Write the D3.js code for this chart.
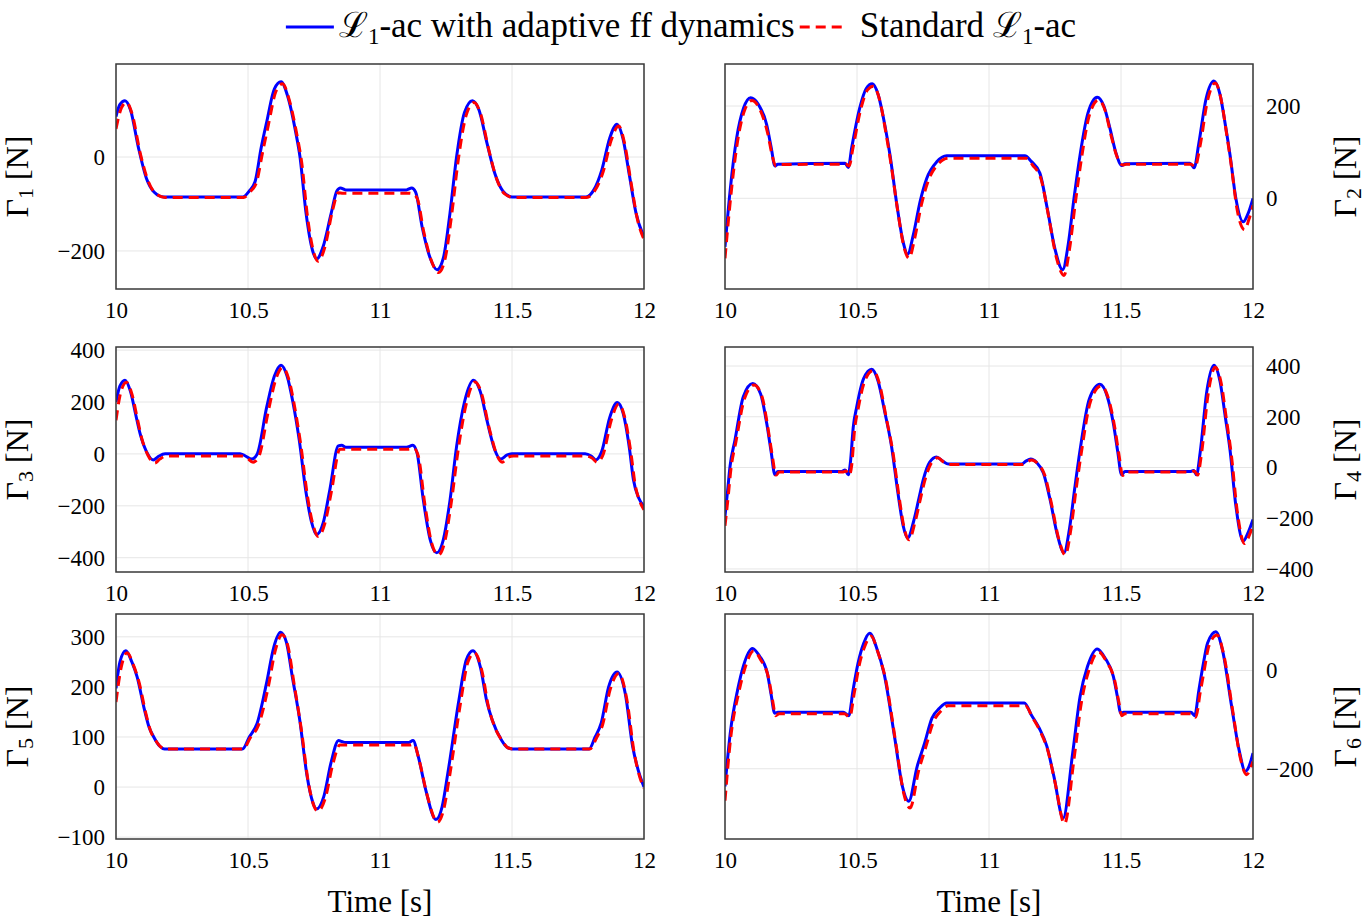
<!DOCTYPE html>
<html>
<head>
<meta charset="utf-8">
<script src="https://cdn.jsdelivr.net/npm/d3@7"></script>
<style>
body { margin: 0; background: #fff; }
</style>
</head>
<body>
<svg id="chart" width="1369" height="919"></svg>
<script>
// time axis and tick labels
var xTicks = [10, 10.5, 11, 11.5, 12];
var yTicks1 = [-200, 0];
var yTicks2 = [0, 200];
var yTicks3 = [-400, -200, 0, 200, 400];
var yTicks4 = [-400, -200, 0, 200, 400];
var yTicks5 = [-100, 0, 100, 200, 300];
var yTicks6 = [-200, 0];
var yLimits = [[-281, 198], [-196.5, 291], [-455, 412], [-412, 475], [-103.7, 345.6], [-343, 115]];

// Gamma 1
var adaptiveT1 = [10.000,10.015,10.034,10.055,10.085,10.115,10.145,10.180,10.480,10.505,10.527,10.550,10.571,10.600,10.625,10.650,10.680,10.697,10.720,10.745,10.760,10.785,10.815,10.837,10.850,10.870,11.100,11.120,11.135,11.160,11.190,11.216,11.240,11.265,11.290,11.320,11.350,11.375,11.405,11.435,11.465,11.500,11.780,11.810,11.840,11.870,11.898,11.920,11.945,11.970,12.000];
var adaptiveF1 = [86,112,120,100,20,-45,-75,-85,-85,-72,-52,20,75,145,160,130,55,0,-120,-200,-217,-190,-120,-72,-66,-70,-70,-66,-75,-150,-215,-240,-215,-120,0,95,120,100,30,-35,-72,-85,-85,-70,-28,40,70,40,-40,-120,-170];
var standardT1 = [10.000,10.021,10.040,10.061,10.091,10.121,10.151,10.186,10.483,10.508,10.531,10.556,10.577,10.606,10.631,10.656,10.686,10.703,10.726,10.751,10.766,10.791,10.821,10.842,10.860,11.105,11.122,11.141,11.166,11.196,11.222,11.246,11.271,11.296,11.326,11.356,11.381,11.411,11.441,11.471,11.506,11.783,11.813,11.845,11.876,11.904,11.926,11.951,11.976,12.000];
var standardF1 = [60,105,116,92,10,-50,-78,-86,-86,-74,-56,12,68,140,156,122,45,-10,-130,-207,-222,-192,-112,-76,-77,-77,-78,-88,-160,-223,-246,-218,-125,-8,88,116,92,18,-45,-78,-86,-86,-72,-32,36,66,30,-55,-135,-175];

// Gamma 2
var adaptiveT2 = [10.000,10.020,10.044,10.070,10.097,10.125,10.158,10.175,10.189,10.200,10.455,10.467,10.480,10.510,10.535,10.558,10.580,10.605,10.625,10.650,10.675,10.692,10.713,10.739,10.764,10.802,10.840,11.136,11.160,11.193,11.220,11.250,11.279,11.300,11.322,11.345,11.375,11.410,11.435,11.458,11.480,11.503,11.515,11.761,11.777,11.795,11.822,11.852,11.875,11.895,11.913,11.935,11.963,11.980,12.000];
var adaptiveF2 = [-105,20,130,195,218,205,159,110,70,74,76,67,110,195,238,248,225,160,94,-10,-95,-121,-80,-7,43,79,92,92,80,54,-20,-110,-155,-100,0,94,185,219,200,152,100,71,75,76,66,120,215,254,225,160,94,0,-51,-35,0];
var standardT2 = [10.000,10.022,10.048,10.075,10.102,10.130,10.162,10.178,10.192,10.205,10.458,10.470,10.485,10.515,10.540,10.562,10.585,10.610,10.630,10.655,10.680,10.697,10.718,10.744,10.770,10.807,10.845,11.140,11.165,11.198,11.226,11.256,11.284,11.305,11.327,11.350,11.380,11.415,11.440,11.463,11.485,11.507,11.520,11.765,11.780,11.800,11.827,11.857,11.880,11.900,11.918,11.940,11.968,11.985,12.000];
var standardF2 = [-130,5,125,192,212,195,140,95,70,73,74,70,110,195,235,243,215,140,70,-30,-110,-130,-88,-14,38,74,87,87,72,40,-40,-130,-167,-110,-10,85,180,213,190,135,90,72,74,74,68,115,210,250,212,140,70,-25,-68,-45,-15];

// Gamma 3
var adaptiveT3 = [10.000,10.015,10.034,10.055,10.075,10.091,10.115,10.141,10.160,10.186,10.470,10.490,10.514,10.535,10.571,10.600,10.625,10.648,10.670,10.694,10.720,10.740,10.760,10.785,10.810,10.842,10.855,10.870,11.100,11.124,11.140,11.164,11.190,11.215,11.240,11.265,11.290,11.320,11.354,11.380,11.405,11.417,11.435,11.457,11.480,11.500,11.777,11.800,11.818,11.840,11.870,11.899,11.920,11.945,11.960,11.980,12.000];
var adaptiveF3 = [200,262,284,240,150,79,10,-23,-10,1,1,-8,-20,0,181,300,342,300,200,54,-150,-260,-311,-265,-138,31,33,26,26,33,5,-177,-330,-381,-330,-180,28,200,284,240,130,79,15,-20,-5,1,1,-8,-23,10,140,198,160,20,-100,-170,-202];
var standardT3 = [10.000,10.020,10.040,10.061,10.081,10.097,10.121,10.147,10.166,10.192,10.475,10.495,10.519,10.541,10.577,10.606,10.631,10.654,10.676,10.700,10.726,10.746,10.766,10.791,10.816,10.848,10.870,11.105,11.128,11.145,11.170,11.196,11.221,11.246,11.271,11.296,11.326,11.360,11.386,11.411,11.423,11.441,11.463,11.486,11.506,11.780,11.803,11.823,11.846,11.876,11.904,11.926,11.951,11.966,11.985,12.000];
var standardF3 = [130,245,276,228,135,62,-5,-35,-20,-8,-8,-15,-32,-10,165,290,333,290,185,35,-168,-272,-318,-268,-145,18,18,18,22,-8,-195,-345,-390,-335,-180,15,190,277,228,110,62,0,-32,-12,-8,-8,-16,-32,0,130,192,145,0,-115,-185,-215];

// Gamma 4
var adaptiveT4 = [10.000,10.010,10.019,10.038,10.069,10.105,10.135,10.158,10.175,10.189,10.200,10.440,10.455,10.467,10.475,10.486,10.499,10.525,10.556,10.580,10.605,10.631,10.655,10.675,10.692,10.715,10.735,10.751,10.775,10.801,10.825,10.846,11.124,11.140,11.158,11.180,11.206,11.230,11.260,11.284,11.305,11.325,11.345,11.380,11.420,11.448,11.471,11.488,11.502,11.515,11.761,11.775,11.786,11.800,11.825,11.852,11.875,11.895,11.913,11.935,11.963,11.980,12.000];
var adaptiveF4 = [-192,-90,4,109,278,331,290,174,60,-29,-16,-16,-10,-29,20,161,239,350,387,340,220,82,-100,-230,-278,-210,-120,-48,20,41,25,14,14,25,33,20,-22,-120,-270,-336,-240,-80,69,270,328,280,174,60,-29,-16,-16,-12,-29,60,300,403,340,200,69,-150,-290,-260,-205];
var standardT4 = [10.000,10.012,10.022,10.042,10.074,10.110,10.140,10.162,10.180,10.193,10.205,10.445,10.458,10.471,10.480,10.491,10.504,10.530,10.561,10.585,10.610,10.636,10.660,10.680,10.697,10.720,10.740,10.756,10.780,10.806,10.830,10.850,11.128,11.144,11.162,11.185,11.211,11.235,11.265,11.289,11.310,11.330,11.350,11.385,11.425,11.453,11.476,11.493,11.506,11.520,11.765,11.778,11.790,11.805,11.830,11.857,11.880,11.900,11.918,11.940,11.968,11.985,12.000];
var standardF4 = [-230,-115,-10,105,272,325,280,160,40,-30,-18,-18,-14,-30,10,150,230,343,382,330,200,60,-120,-245,-285,-215,-125,-55,15,38,20,12,12,22,30,15,-30,-135,-285,-345,-245,-85,60,262,322,270,160,45,-32,-18,-18,-14,-30,55,290,395,330,185,50,-170,-300,-270,-225];

// Gamma 5
var adaptiveT5 = [10.000,10.015,10.037,10.060,10.080,10.108,10.125,10.142,10.165,10.184,10.479,10.505,10.535,10.570,10.598,10.623,10.645,10.668,10.696,10.724,10.745,10.759,10.787,10.815,10.843,10.855,10.870,11.109,11.125,11.145,11.173,11.212,11.235,11.257,11.299,11.327,11.352,11.380,11.405,11.425,11.460,11.480,11.502,11.792,11.815,11.838,11.866,11.898,11.929,11.957,11.978,12.000];
var adaptiveF5 = [197,250,272,250,220,154,120,101,82,76,76,100,128,207,280,309,290,220,134,21,-30,-44,-19,50,93,91,89,89,93,61,-5,-65,-40,28,174,254,272,240,170,134,94,80,76,76,100,128,200,230,187,81,34,0];
var standardT5 = [10.000,10.020,10.042,10.065,10.086,10.114,10.131,10.148,10.170,10.190,10.482,10.508,10.540,10.576,10.604,10.629,10.651,10.674,10.702,10.730,10.750,10.765,10.793,10.821,10.848,10.870,11.112,11.128,11.150,11.178,11.218,11.241,11.263,11.305,11.333,11.358,11.386,11.411,11.431,11.466,11.486,11.508,11.795,11.820,11.843,11.872,11.904,11.935,11.963,11.984,12.000];
var standardF5 = [170,240,268,245,212,145,112,95,80,76,76,98,124,198,274,304,282,208,115,5,-38,-48,-22,45,84,84,84,86,50,-15,-70,-45,20,168,250,268,232,160,125,90,78,76,76,98,124,195,227,175,68,20,-2];

// Gamma 6
var adaptiveT6 = [10.000,10.020,10.048,10.069,10.104,10.130,10.160,10.175,10.188,10.200,10.448,10.469,10.485,10.504,10.525,10.548,10.575,10.602,10.644,10.672,10.696,10.728,10.756,10.784,10.812,10.840,11.134,11.160,11.190,11.219,11.246,11.281,11.317,11.345,11.373,11.410,11.440,11.471,11.487,11.499,11.510,11.765,11.779,11.795,11.810,11.828,11.859,11.885,11.919,11.947,11.971,11.985,12.000];
var adaptiveF6 = [-236,-127,-39,8,45,30,-5,-50,-87,-85,-85,-92,-40,15,55,76,45,-5,-141,-236,-266,-195,-148,-97,-77,-66,-66,-90,-117,-154,-216,-300,-168,-53,8,44,25,-12,-55,-87,-85,-85,-92,-40,8,56,79,40,-73,-161,-205,-195,-168];
var standardT6 = [10.000,10.022,10.052,10.074,10.109,10.135,10.165,10.180,10.192,10.205,10.452,10.472,10.490,10.508,10.530,10.553,10.580,10.607,10.649,10.677,10.701,10.733,10.761,10.789,10.817,10.845,11.138,11.164,11.195,11.224,11.251,11.286,11.322,11.350,11.378,11.415,11.445,11.476,11.492,11.503,11.515,11.769,11.783,11.800,11.815,11.833,11.864,11.890,11.924,11.952,11.976,11.990,12.000];
var standardF6 = [-265,-135,-45,2,40,22,-15,-60,-92,-88,-88,-95,-45,10,50,70,36,-15,-155,-250,-280,-205,-155,-105,-83,-72,-72,-95,-125,-165,-230,-312,-180,-65,0,38,18,-20,-65,-92,-88,-88,-95,-45,0,50,72,30,-85,-178,-212,-200,-185];

var legendLabels = [["", "-ac with adaptive ff dynamics"], ["Standard ", "-ac"]];
var xLabel = "Time [s]";

var serif = "'Liberation Serif', 'Times New Roman', Times, serif";

var pair = function(ts, fs) {
    return ts.map(function(t, i) { return {t: t, f: fs[i]}; });
};

var panels = [
    {adaptive: pair(adaptiveT1, adaptiveF1), standard: pair(standardT1, standardF1), ticks: yTicks1},
    {adaptive: pair(adaptiveT2, adaptiveF2), standard: pair(standardT2, standardF2), ticks: yTicks2},
    {adaptive: pair(adaptiveT3, adaptiveF3), standard: pair(standardT3, standardF3), ticks: yTicks3},
    {adaptive: pair(adaptiveT4, adaptiveF4), standard: pair(standardT4, standardF4), ticks: yTicks4},
    {adaptive: pair(adaptiveT5, adaptiveF5), standard: pair(standardT5, standardF5), ticks: yTicks5},
    {adaptive: pair(adaptiveT6, adaptiveF6), standard: pair(standardT6, standardF6), ticks: yTicks6}
];

var colLeft = [116, 725];
var rowTop = [64, 347, 614];
var plotW = 528;
var plotH = 225;

var svg = d3.select("#chart").attr("font-family", serif);

var drawPanel = function(p, i) {
    var col = i % 2;
    var row = Math.floor(i / 2);
    var left = colLeft[col];
    var top = rowTop[row];

    var xScale = d3.scaleLinear().domain([10, 12]).range([left, left + plotW]);
    var yScale = d3.scaleLinear().domain(yLimits[i]).range([top + plotH, top]);

    var g = svg.append("g").attr("class", "panel");

    // light grid
    g.append("g").selectAll("line")
        .data(xTicks)
        .enter().append("line")
        .attr("x1", xScale).attr("x2", xScale)
        .attr("y1", top).attr("y2", top + plotH)
        .attr("stroke", "#e6e6e6").attr("stroke-width", 1);
    g.append("g").selectAll("line")
        .data(p.ticks)
        .enter().append("line")
        .attr("y1", yScale).attr("y2", yScale)
        .attr("x1", left).attr("x2", left + plotW)
        .attr("stroke", "#e6e6e6").attr("stroke-width", 1);

    g.append("clipPath").attr("id", "clip" + i)
        .append("rect")
        .attr("x", left).attr("y", top)
        .attr("width", plotW).attr("height", plotH);

    var linegen = d3.line()
        .x(function(d) { return xScale(d.t); })
        .y(function(d) { return yScale(d.f); })
        .curve(d3.curveMonotoneX);

    var lines = g.append("g").attr("clip-path", "url(#clip" + i + ")");
    lines.append("path")
        .datum(p.adaptive)
        .attr("d", linegen)
        .attr("fill", "none")
        .attr("stroke", "#0000ff")
        .attr("stroke-width", 3);
    lines.append("path")
        .datum(p.standard)
        .attr("d", linegen)
        .attr("fill", "none")
        .attr("stroke", "#ff0000")
        .attr("stroke-width", 3)
        .attr("stroke-dasharray", "10,6");

    g.append("rect")
        .attr("x", left).attr("y", top)
        .attr("width", plotW).attr("height", plotH)
        .attr("fill", "none")
        .attr("stroke", "#383838")
        .attr("stroke-width", 1.5);

    // x axis
    g.append("g")
        .attr("transform", "translate(0," + (top + plotH) + ")")
        .call(d3.axisBottom(xScale).tickValues(xTicks).tickSize(0).tickPadding(13).tickFormat(d3.format("~g")))
        .call(function(a) { a.select(".domain").remove(); })
        .attr("font-size", 23).attr("font-family", serif);

    // y axis, left column on the left side, right column on the right side
    var yAxis = col === 0 ? d3.axisLeft(yScale).tickPadding(11) : d3.axisRight(yScale).tickPadding(13);
    g.append("g")
        .attr("transform", "translate(" + (col === 0 ? left : left + plotW) + ",0)")
        .call(yAxis.tickValues(p.ticks).tickSize(0).tickFormat(d3.format("~g")))
        .call(function(a) { a.select(".domain").remove(); })
        .attr("font-size", 23).attr("font-family", serif);

    // y label
    var lx = col === 0 ? 28 : 1356;
    var label = g.append("text")
        .attr("transform", "translate(" + lx + "," + (top + plotH / 2) + ") rotate(-90)")
        .attr("text-anchor", "middle")
        .attr("font-family", serif)
        .attr("font-size", 32);
    label.append("tspan").text("\u0393");
    label.append("tspan").attr("font-size", 22).attr("dy", 5).text(i + 1);
    label.append("tspan").attr("dy", -5).text(" [N]");

    if (row === 2) {
        g.append("text")
            .attr("x", left + plotW / 2)
            .attr("y", 912)
            .attr("text-anchor", "middle")
            .attr("font-family", serif)
            .attr("font-size", 31)
            .text(xLabel);
    }
};

panels.forEach(drawPanel);

// legend
var legend = svg.append("g");
var sampleW = 48;
var items = legendLabels.map(function(lab, k) {
    var t = legend.append("text").attr("y", 37).attr("font-family", serif).attr("font-size", 35);
    t.append("tspan").text(lab[0] + "\u2112");
    t.append("tspan").attr("font-size", 23).attr("dy", 7).text("1");
    t.append("tspan").attr("dy", -7).text(lab[1]);
    return t;
});
var w0 = items[0].node().getComputedTextLength();
var w1 = items[1].node().getComputedTextLength();
var total = sampleW + 5 + w0 + 5 + sampleW + 12 + w1;
var x0 = 681 - total / 2;

legend.append("line")
    .attr("x1", x0).attr("x2", x0 + sampleW)
    .attr("y1", 27).attr("y2", 27)
    .attr("stroke", "#0000ff").attr("stroke-width", 3);
items[0].attr("x", x0 + sampleW + 5);
var x1 = x0 + sampleW + 5 + w0 + 5;
legend.append("line")
    .attr("x1", x1).attr("x2", x1 + sampleW)
    .attr("y1", 27).attr("y2", 27)
    .attr("stroke", "#ff0000").attr("stroke-width", 3)
    .attr("stroke-dasharray", "10,6");
items[1].attr("x", x1 + sampleW + 12);
</script>
</body>
</html>
